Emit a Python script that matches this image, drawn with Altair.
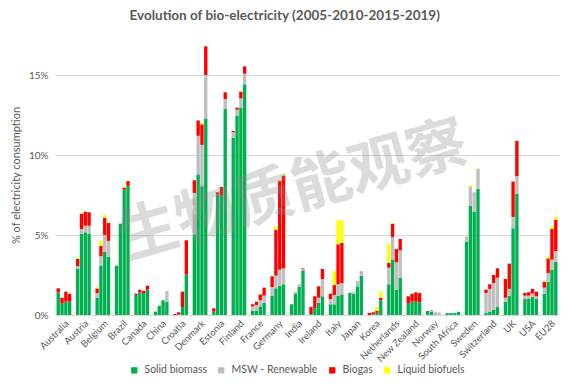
import altair as alt
import pandas as pd

countries = ["Australia", "Austria", "Belgium", "Brazil", "Canada", "China", "Croatia",
             "Denmark", "Estonia", "Finland", "France", "Germany", "India", "Ireland",
             "Italy", "Japan", "Korea", "Netherlands", "New Zealand", "Norway",
             "South Africa", "Sweden", "Switzerland", "UK", "USA", "EU28"]
years = ["2005", "2010", "2015", "2019"]
types = ["Solid biomass", "MSW - Renewable", "Biogas", "Liquid biofuels"]
colors = ["#00B050", "#BFBFBF", "#FF0000", "#FFFF00"]

solid = [
    [1.42, 0.71, 0.83, 0.83], [2.88, 5.08, 5.17, 5.08], [1.08, 3.08, 3.96, 3.63],
    [3.08, 5.71, 7.83, 8.08], [1.25, 1.42, 1.33, 1.58], [0.21, 0.58, 0.92, 0.83],
    [0.0, 0.04, 0.5, 2.54], [5.04, 8.79, 8.04, 12.29], [0.21, 7.54, 7.46, 12.88],
    [11.08, 12.46, 12.96, 14.42], [0.25, 0.25, 0.54, 0.75], [1.21, 1.67, 1.83, 1.92],
    [0.67, 1.33, 1.75, 2.79], [0.04, 0.42, 0.75, 1.17], [0.67, 0.67, 1.21, 1.29],
    [1.38, 1.33, 1.79, 2.46], [0.0, 0.04, 0.13, 0.92], [1.92, 3.46, 1.58, 2.33],
    [0.71, 0.83, 0.83, 0.79], [0.25, 0.21, 0.04, 0.02], [0.12, 0.12, 0.12, 0.2],
    [4.58, 6.83, 6.46, 7.88], [0.13, 0.21, 0.33, 0.5], [0.83, 1.21, 5.42, 7.58],
    [1.0, 1.0, 1.13, 1.0], [1.33, 2.08, 2.83, 3.33]]
msw = [
    [0, 0, 0, 0], [0.17, 0.29, 0.41, 0.5], [0.29, 0.59, 1.04, 1.0],
    [0, 0, 0, 0], [0, 0, 0, 0], [0, 0, 0, 0.67],
    [0, 0, 0, 0], [2.59, 2.41, 2.59, 2.71], [0, 0, 0, 0.62],
    [0.34, 0.37, 0.58, 0.66], [0.29, 0.38, 0.38, 0.46], [0.54, 0.79, 1.0, 1.0],
    [0, 0.13, 0.17, 0.08], [0, 0, 0.33, 1.08], [0.33, 0.58, 0.71, 0.71],
    [0, 0.09, 0.33, 0.21], [0, 0, 0, 0], [1.04, 1.41, 1.71, 1.71],
    [0, 0, 0, 0], [0, 0.05, 0.17, 0.15], [0, 0, 0, 0],
    [0.34, 1.17, 1.21, 1.25], [1.25, 1.42, 1.67, 1.83], [0.25, 0.42, 0.71, 1.09],
    [0.21, 0.21, 0.21, 0.17], [0.38, 0.54, 0.63, 0.67]]
biogas = [
    [0.25, 0.37, 0.63, 0.5], [0.46, 0.96, 0.88, 0.84], [0.29, 0.66, 1.08, 1.12],
    [0, 0, 0.13, 0.29], [0.08, 0.16, 0.17, 0.25], [0, 0, 0, 0],
    [0.06, 0.13, 0.96, 2.13], [0.79, 0.96, 1.29, 1.79], [0.21, 0.13, 0.54, 0.42],
    [0.08, 0.13, 0.42, 0.46], [0.13, 0.2, 0.37, 0.5], [0.67, 2.87, 5.54, 5.79],
    [0, 0, 0, 0.04], [0.46, 0.75, 0.71, 0.63], [0.33, 0.62, 2.5, 2.5],
    [0, 0, 0, 0.04], [0.13, 0.13, 0.12, 0.16], [0.29, 0.84, 0.83, 0.71],
    [0.46, 0.5, 0.59, 0.58], [0, 0.03, 0, 0], [0, 0, 0, 0],
    [0, 0, 0, 0], [0.21, 0.29, 0.5, 0.59], [1.17, 1.58, 2.21, 2.21],
    [0.17, 0.21, 0.29, 0.29], [0.37, 0.92, 1.92, 1.96]]
liquid = [
    [0, 0, 0, 0], [0.08, 0.04, 0.04, 0], [0.08, 0.29, 0.17, 0.04],
    [0, 0, 0.08, 0.04], [0, 0, 0, 0], [0, 0, 0, 0],
    [0, 0, 0, 0], [0, 0, 0.08, 0], [0, 0, 0, 0],
    [0, 0, 0.04, 0], [0, 0, 0.04, 0], [0, 0.21, 0.08, 0.08],
    [0, 0, 0, 0], [0, 0, 0, 0], [0, 0.87, 1.5, 1.42],
    [0, 0, 0, 0], [0, 0, 0.25, 0.38], [1.21, 0.04, 0, 0],
    [0, 0, 0, 0], [0, 0, 0, 0], [0, 0, 0, 0],
    [0.04, 0.12, 0, 0.04], [0, 0, 0, 0], [0, 0, 0, 0],
    [0, 0, 0, 0], [0.08, 0.13, 0.17, 0.17]]

series = [solid, msw, biogas, liquid]
rows = []
for ti, (t, arr) in enumerate(zip(types, series)):
    for ci, c in enumerate(countries):
        for yi, y in enumerate(years):
            rows.append({"country": c, "year": y, "type": t, "order": ti,
                         "value": arr[ci][yi]})
df = pd.DataFrame(rows)

FONT = "Lato"

bars = alt.Chart(df).mark_bar().encode(
    x=alt.X("country:N", sort=countries, title=None,
            scale=alt.Scale(paddingInner=0.24, paddingOuter=0.08),
            axis=alt.Axis(labelAngle=-45, labelAlign="right", labelBaseline="top",
                          labelFontSize=9.5, labelColor="#595959", labelFont=FONT,
                          ticks=False, domainColor="#D9D9D9", labelPadding=3)),
    xOffset=alt.XOffset("year:N", sort=years, scale=alt.Scale(paddingInner=0.12)),
    y=alt.Y("value:Q", stack="zero",
            scale=alt.Scale(domain=[0, 17.5], nice=False),
            title="% of electricity consumption",
            axis=alt.Axis(values=[0, 5, 10, 15], labelExpr="datum.value + '%'",
                          labelFontSize=10, labelColor="#595959", labelFont=FONT,
                          titleFontSize=11, titleColor="#595959", titleFont=FONT,
                          titleFontWeight="normal", domain=False, ticks=False,
                          gridColor="#D9D9D9", labelPadding=7, titlePadding=7)),
    color=alt.Color("type:N", sort=types,
                    scale=alt.Scale(domain=types, range=colors),
                    legend=alt.Legend(title=None, orient="none", direction="horizontal",
                                      legendX=74, legendY=330,
                                      symbolType="square", symbolSize=40,
                                      symbolStrokeWidth=0, labelFontSize=10.5,
                                      labelColor="#595959", labelFont=FONT,
                                      labelOffset=5, columnPadding=9)),
    order=alt.Order("order:Q", sort="ascending"),
)

wm = pd.DataFrame({"t": ["生物质能观察"]})
watermark = alt.Chart(wm).mark_text(
    fontSize=60, font="Noto Sans CJK SC", fontWeight="bold", angle=344,
    color="#8A8A8A", opacity=0.3, align="center", baseline="middle"
).encode(text="t:N", x=alt.value(238), y=alt.value(157))

chart = alt.layer(bars, watermark).properties(
    width=504, height=280,
    title=alt.Title("Evolution of bio-electricity (2005-2010-2015-2019)",
                    fontSize=13.5, font=FONT, fontWeight="bold", color="#595959",
                    offset=13, anchor="middle", frame="bounds"),
    padding={"left": 2, "top": 0, "right": 0, "bottom": 0},
).configure_view(stroke=None)

chart.save("out.html", embed_options={"renderer": "svg", "actions": False})
